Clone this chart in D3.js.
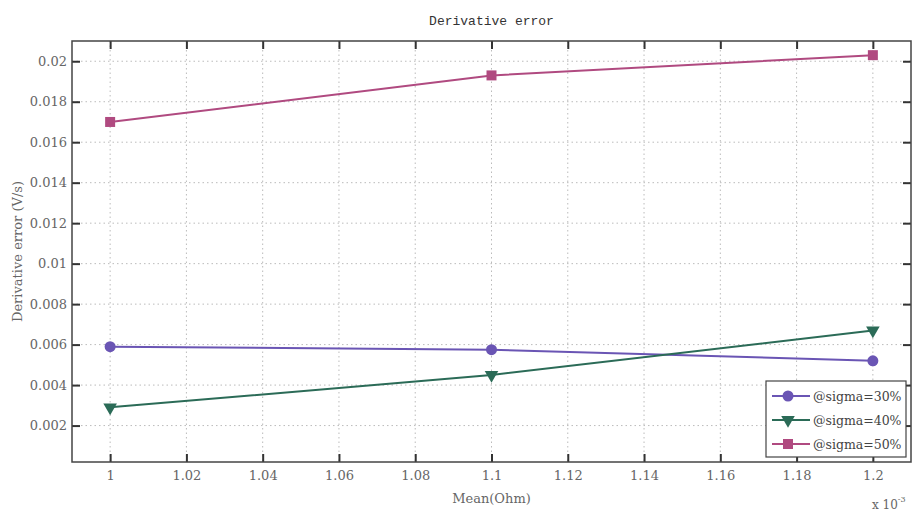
<!DOCTYPE html>
<html>
<head>
<meta charset="utf-8">
<script src="https://cdn.jsdelivr.net/npm/d3@7"></script>
<style>
  html, body { margin: 0; padding: 0; background: #fff; }
  svg { display: block; }
</style>
</head>
<body>
<svg id="chart" width="914" height="511"></svg>
<script>
// Mean resistance values (x 10^-3 Ohm)
const means = [1.0, 1.1, 1.2];
const sigma30 = [0.0059, 0.00575, 0.0052];
const sigma40 = [0.0029, 0.0045, 0.0067];
const sigma50 = [0.0170, 0.0193, 0.0203];
const seriesNames = ["@sigma=30%", "@sigma=40%", "@sigma=50%"];
const xTicks = [1, 1.02, 1.04, 1.06, 1.08, 1.1, 1.12, 1.14, 1.16, 1.18, 1.2];
const yTicks = [0.002, 0.004, 0.006, 0.008, 0.01, 0.012, 0.014, 0.016, 0.018, 0.02];

const series = [
  { name: seriesNames[0], values: sigma30, color: "#6a55b4", symbol: "circle" },
  { name: seriesNames[1], values: sigma40, color: "#2b6b57", symbol: "triangle" },
  { name: seriesNames[2], values: sigma50, color: "#b04a80", symbol: "square" }
];

const svg = d3.select("#chart");
const m = { left: 72, right: 911, top: 41, bottom: 462 };

const x = d3.scaleLinear().domain([0.99, 1.21]).range([m.left, m.right]);
const y = d3.scaleLinear().domain([0.0002, 0.021]).range([m.bottom, m.top]);

const tickFont = "DejaVu Serif";
const textColor = "#666";

// dotted grid
const grid = svg.append("g");
grid.selectAll("line.gx").data(xTicks).join("line")
  .attr("x1", d => x(d)).attr("x2", d => x(d))
  .attr("y1", m.top).attr("y2", m.bottom)
  .attr("stroke", "#bbb").attr("stroke-width", 1).attr("stroke-dasharray", "1.5,3");
grid.selectAll("line.gy").data(yTicks).join("line")
  .attr("x1", m.left).attr("x2", m.right)
  .attr("y1", d => y(d)).attr("y2", d => y(d))
  .attr("stroke", "#bbb").attr("stroke-width", 1).attr("stroke-dasharray", "1.5,3");

// axes with inward ticks
const fmt = d => String(+d.toFixed(4));
const axisStyle = g => {
  g.attr("font-family", tickFont).attr("font-size", 13);
  g.select(".domain").remove();
  g.selectAll(".tick line").attr("stroke", "#333").attr("stroke-width", 2);
  g.selectAll(".tick text").attr("fill", textColor);
};

svg.append("g").attr("transform", `translate(0,${m.bottom})`)
  .call(d3.axisBottom(x).tickValues(xTicks).tickFormat(fmt).tickSizeInner(-8).tickPadding(9))
  .call(axisStyle);
svg.append("g").attr("transform", `translate(0,${m.top})`)
  .call(d3.axisTop(x).tickValues(xTicks).tickFormat("").tickSizeInner(-8))
  .call(axisStyle);
svg.append("g").attr("transform", `translate(${m.left},0)`)
  .call(d3.axisLeft(y).tickValues(yTicks).tickFormat(fmt).tickSizeInner(-8).tickPadding(5))
  .call(axisStyle);
svg.append("g").attr("transform", `translate(${m.right},0)`)
  .call(d3.axisRight(y).tickValues(yTicks).tickFormat("").tickSizeInner(-8))
  .call(axisStyle);

// plot frame
svg.append("rect")
  .attr("x", m.left).attr("y", m.top)
  .attr("width", m.right - m.left).attr("height", m.bottom - m.top)
  .attr("fill", "none").attr("stroke", "#444").attr("stroke-width", 1.5);

// series lines and markers
const symbolOf = s => s === "circle" ? d3.symbolCircle : s === "triangle" ? d3.symbolTriangle : d3.symbolSquare;
const sizeOf = s => s === "circle" ? 95 : s === "triangle" ? 80 : 100;
const rotOf = s => s === "triangle" ? 180 : 0;

const line = d3.line().x(d => x(d[0])).y(d => y(d[1]));
series.forEach(s => {
  const pts = means.map((mv, i) => [mv, s.values[i]]);
  svg.append("path").datum(pts)
    .attr("d", line).attr("fill", "none")
    .attr("stroke", s.color).attr("stroke-width", 2);
  svg.append("g").selectAll("path").data(pts).join("path")
    .attr("d", d3.symbol().type(symbolOf(s.symbol)).size(sizeOf(s.symbol)))
    .attr("transform", d => `translate(${x(d[0])},${y(d[1])}) rotate(${rotOf(s.symbol)})`)
    .attr("fill", s.color);
});

// title and axis labels
svg.append("text").attr("x", (m.left + m.right) / 2).attr("y", 25)
  .attr("text-anchor", "middle").attr("fill", "#333")
  .attr("font-family", "Liberation Mono").attr("font-size", 13)
  .text("Derivative error");

svg.append("text").attr("x", (m.left + m.right) / 2).attr("y", 503)
  .attr("text-anchor", "middle").attr("fill", textColor)
  .attr("font-family", tickFont).attr("font-size", 13)
  .text("Mean(Ohm)");

svg.append("text")
  .attr("transform", `translate(22,${(m.top + m.bottom) / 2}) rotate(-90)`)
  .attr("text-anchor", "middle").attr("fill", textColor)
  .attr("font-family", tickFont).attr("font-size", 13)
  .text("Derivative error (V/s)");

const exp = svg.append("text").attr("x", 872).attr("y", 509)
  .attr("fill", textColor).attr("font-family", tickFont).attr("font-size", 12);
exp.append("tspan").text("x 10");
exp.append("tspan").attr("dy", -7).attr("font-size", 8).text("-3");

// legend
const lg = svg.append("g").attr("transform", "translate(766,381)");
lg.append("rect").attr("width", 140).attr("height", 76)
  .attr("fill", "#fff").attr("stroke", "#444").attr("stroke-width", 1.2);
series.forEach((s, i) => {
  const row = lg.append("g").attr("transform", `translate(0,${15 + i * 24})`);
  row.append("line").attr("x1", 6).attr("x2", 44).attr("y1", 0).attr("y2", 0)
    .attr("stroke", s.color).attr("stroke-width", 2);
  row.append("path")
    .attr("d", d3.symbol().type(symbolOf(s.symbol)).size(sizeOf(s.symbol)))
    .attr("transform", `translate(22,0) rotate(${rotOf(s.symbol)})`)
    .attr("fill", s.color);
  row.append("text").attr("x", 47).attr("y", 5)
    .attr("fill", "#444").attr("font-family", tickFont).attr("font-size", 12.5)
    .text(s.name);
});
</script>
</body>
</html>
